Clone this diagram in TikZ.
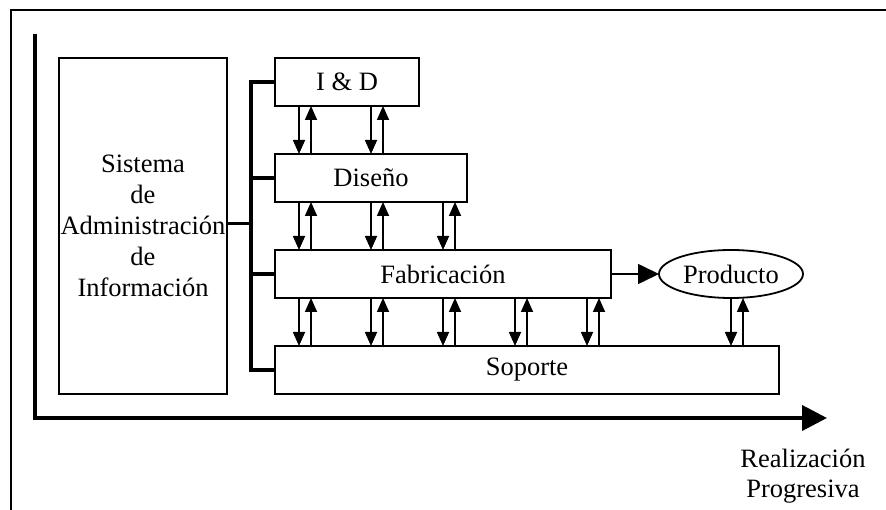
\documentclass[tikz,border=0pt]{standalone}
\usepackage{fontspec}
\setmainfont{Liberation Serif}
\usetikzlibrary{arrows.meta,shapes.geometric}
\begin{document}
\begin{tikzpicture}[x=1pt,y=-1pt,
  every node/.style={font=\fontsize{26.5}{31}\selectfont, inner sep=0pt, outer sep=0pt},
  blk/.style={draw, line width=1.8pt, rectangle, minimum height=48pt},
  oval/.style={draw, line width=1.8pt, ellipse, minimum height=48pt, minimum width=144pt},
  flow/.style={line width=1.6pt, -{Triangle[length=14pt,width=12pt]}},
  bus/.style={line width=4pt},
  thinbus/.style={line width=3pt},
  frame/.style={line width=2pt},
  axis/.style={line width=4pt, -{Triangle[length=25pt,width=25pt]}},
  outarrow/.style={line width=1.6pt, -{Triangle[length=21pt,width=20pt]}}
]
\useasboundingbox (0,0) rectangle (886,510);
% outer frame
\coordinate (fbl) at (11,512);
\coordinate (ftl) at (11,10);
\coordinate (ftr) at (888,10);
\draw[frame] (fbl) -- (ftl) -- (ftr);

% axis
\coordinate (axtop) at (35,34);
\coordinate (axcorner) at (35,418);
\coordinate (axend) at (827,418);
\draw[axis] (axtop) -- (axcorner) -- (axend);
\node[align=center, font=\fontsize{26.5}{30}\selectfont] (lab) at (803,476) {Realización\\Progresiva};

% blocks
\node[blk, minimum width=168pt, minimum height=336pt, align=center] (sis) at (143,226)
  {Sistema\\de\\Administración\\de\\Información};
\node[blk, minimum width=144pt] (id) at (347,82) {I \& D};
\node[blk, minimum width=192pt] (dis) at (371,178) {Diseño};
\node[blk, minimum width=336pt] (fab) at (443,274) {Fabricación};
\node[blk, minimum width=504pt] (sop) at (527,370) {Soporte};
\node[oval] (prod) at (731,274) {Producto};

% bus
\coordinate (bustop) at (251,82);
\coordinate (busbot) at (251,370);
\draw[bus] (id.west) -- (bustop) -- (busbot) -- (sop.west);
\draw[bus] (dis.west) -- (dis.west -| bustop);
\draw[bus] (fab.west) -- (fab.west -| bustop);
\draw[thinbus] ([yshift=2pt]sis.east) -- ([yshift=2pt]sis.east -| bustop);

% arrows I&D <-> Diseno
\foreach \o in {24,96}{
  \draw[flow] ([xshift=\o pt]id.south west) -- ([xshift=\o pt]dis.north west);
  \draw[flow] ([xshift=\o pt+12pt]dis.north west) -- ([xshift=\o pt+12pt]id.south west);
}
% arrows Diseno <-> Fabricacion
\foreach \o in {24,96,168}{
  \draw[flow] ([xshift=\o pt]dis.south west) -- ([xshift=\o pt]fab.north west);
  \draw[flow] ([xshift=\o pt+12pt]fab.north west) -- ([xshift=\o pt+12pt]dis.south west);
}
% arrows Fabricacion <-> Soporte
\foreach \o in {24,96,168,240,312}{
  \draw[flow] ([xshift=\o pt]fab.south west) -- ([xshift=\o pt]sop.north west);
  \draw[flow] ([xshift=\o pt+12pt]sop.north west) -- ([xshift=\o pt+12pt]fab.south west);
}
% Producto <-> Soporte
\draw[flow] (prod.south) -- (prod.south |- sop.north);
\draw[flow] ([xshift=12pt]prod.south |- sop.north) -- ([xshift=12pt]prod.south |- fab.south);
% Fabricacion -> Producto
\draw[outarrow] (fab.east) -- (prod.west);
\end{tikzpicture}
\end{document}
